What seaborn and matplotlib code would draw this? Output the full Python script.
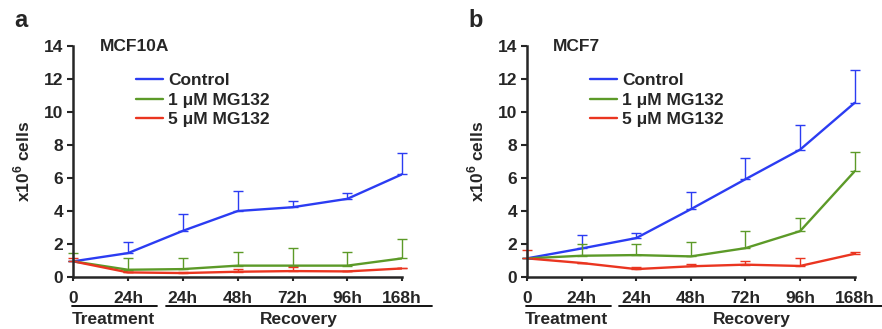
import numpy as np
import pandas as pd
import seaborn as sns
import matplotlib.pyplot as plt
import matplotlib.transforms as mtransforms

TIMEPOINTS = ["0", "24h", "24h ", "48h", "72h", "96h", "168h"]
TICK_LABELS = ["0", "24h", "24h", "48h", "72h", "96h", "168h"]
SERIES = ["Control", "1 \u03bcM MG132", "5 \u03bcM MG132"]
COLORS = ["#2b3cf2", "#5c9a28", "#ea3520"]

# MCF10A (panel a)
mcf10a_control = [0.95, 1.45, 2.80, 4.00, 4.23, 4.74, 6.23]
mcf10a_control_top = [0.95, 2.12, 3.81, 5.22, 4.58, 5.08, 7.54]
mcf10a_mg1 = [0.95, 0.44, 0.48, 0.69, 0.69, 0.69, 1.13]
mcf10a_mg1_top = [1.45, 1.13, 1.15, 1.53, 1.73, 1.51, 2.30]
mcf10a_mg5 = [0.95, 0.28, 0.24, 0.32, 0.36, 0.34, 0.52]
mcf10a_mg5_top = [1.13, 0.30, 0.30, 0.48, 0.58, 0.36, 0.55]

# MCF7 (panel b)
mcf7_control = [1.13, 1.73, 2.36, 4.11, 5.93, 7.72, 10.56]
mcf7_control_top = [1.13, 2.54, 2.66, 5.14, 7.22, 9.19, 12.54]
mcf7_mg1 = [1.13, 1.29, 1.33, 1.25, 1.75, 2.78, 6.41]
mcf7_mg1_top = [1.13, 1.98, 2.02, 2.12, 2.78, 3.57, 7.60]
mcf7_mg5 = [1.13, 0.85, 0.48, 0.65, 0.75, 0.67, 1.41]
mcf7_mg5_top = [1.65, 0.85, 0.60, 0.81, 0.99, 1.13, 1.51]

PANELS = [
    ("a", "MCF10A", [mcf10a_control, mcf10a_mg1, mcf10a_mg5],
     [mcf10a_control_top, mcf10a_mg1_top, mcf10a_mg5_top]),
    ("b", "MCF7", [mcf7_control, mcf7_mg1, mcf7_mg5],
     [mcf7_control_top, mcf7_mg1_top, mcf7_mg5_top]),
]

sns.set_theme(style="ticks")
plt.rcParams["font.family"] = ["Liberation Sans", "DejaVu Sans"]
plt.rcParams["font.weight"] = "bold"
plt.rcParams["mathtext.fontset"] = "custom"
plt.rcParams["mathtext.rm"] = "Liberation Sans:bold"
plt.rcParams["mathtext.bf"] = "Liberation Sans:bold"

FS = 12.5


def draw_panel(fig, ax, letter, title, means, tops):
    x = np.arange(len(TIMEPOINTS))
    df = pd.DataFrame({
        "x": np.tile(x, len(SERIES)),
        "cells": np.concatenate(means),
        "group": np.repeat(SERIES, len(TIMEPOINTS)),
    })
    sns.lineplot(data=df, x="x", y="cells", hue="group", hue_order=SERIES,
                 palette=COLORS, linewidth=1.7, ax=ax, legend=True)
    for m, t, c in zip(means, tops, COLORS):
        m = np.array(m)
        t = np.array(t)
        err = np.clip(t - m, 0, None)
        ax.errorbar(x, m, yerr=[np.zeros_like(err), err], fmt="none",
                    ecolor=c, elinewidth=1.0, capsize=3.5, capthick=1.0,
                    clip_on=False)

    ax.set_xlim(0, 6)
    ax.set_ylim(0, 14)
    ax.set_yticks(range(0, 15, 2))
    ax.set_xticks(x)
    ax.set_xticklabels(TICK_LABELS, fontsize=FS, fontweight="bold")
    offset = mtransforms.ScaledTranslation(5 / 100, 0, fig.dpi_scale_trans)
    for lab in ax.get_xticklabels():
        lab.set_transform(lab.get_transform() + offset)
    ax.tick_params(axis="y", labelsize=FS, width=1.5, length=4, pad=3)
    ax.tick_params(axis="x", width=1.5, length=3, pad=7)
    for lab in ax.get_yticklabels():
        lab.set_fontweight("bold")
    ax.set_xlabel("")
    ax.set_ylabel(r"x10$^{6}$ cells", fontsize=FS, fontweight="bold", labelpad=8)
    sns.despine(ax=ax)
    ax.spines["left"].set_linewidth(1.8)
    ax.spines["bottom"].set_linewidth(1.8)

    ax.text(0.08, 1.0, title, transform=ax.transAxes, fontsize=FS,
            fontweight="bold", va="center", ha="left")
    ax.text(-0.18, 1.11, letter, transform=ax.transAxes, fontsize=17,
            fontweight="bold", va="center", ha="left")

    leg = ax.legend(loc="upper left", bbox_to_anchor=(0.17, 0.915), frameon=False,
                    fontsize=FS, handlelength=1.55, handletextpad=0.3,
                    labelspacing=0.27, borderaxespad=0)
    for txt in leg.get_texts():
        txt.set_fontweight("bold")

    trans = mtransforms.blended_transform_factory(ax.transData, ax.transAxes)
    ax.plot([-0.02, 1.53], [-0.125, -0.125], color="black", lw=1.3,
            transform=trans, clip_on=False)
    ax.plot([1.69, 6.55], [-0.125, -0.125], color="black", lw=1.3,
            transform=trans, clip_on=False)
    ax.text(0.73, -0.185, "Treatment", transform=trans, fontsize=FS,
            fontweight="bold", ha="center", va="center")
    ax.text(4.12, -0.185, "Recovery", transform=trans, fontsize=FS,
            fontweight="bold", ha="center", va="center")


def main():
    fig = plt.figure(figsize=(8.82, 3.29), dpi=100)
    ax_a = fig.add_axes([0.083, 0.158, 0.373, 0.702])
    ax_b = fig.add_axes([0.5975, 0.158, 0.3715, 0.702])
    for ax, (letter, title, means, tops) in zip([ax_a, ax_b], PANELS):
        draw_panel(fig, ax, letter, title, means, tops)
    fig.savefig("out.png", dpi=100)
    plt.close(fig)


if __name__ == "__main__":
    main()
